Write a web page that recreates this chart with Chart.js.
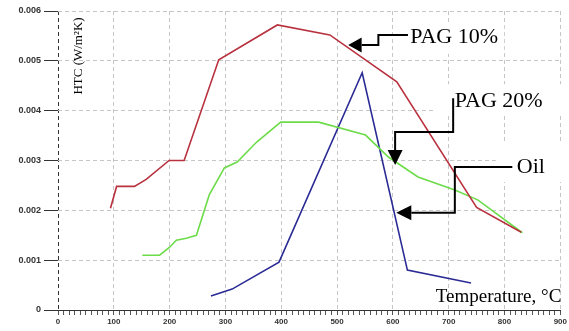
<!DOCTYPE html>
<html><head><meta charset="utf-8">
<script src="https://cdn.jsdelivr.net/npm/chart.js@4"></script>
<style>html,body{margin:0;padding:0;background:#fff}</style>
</head><body>
<canvas id="c" width="569" height="331"></canvas>
<script>
// ---- data ----
const pag10T   = [94, 105, 137, 158, 199, 226, 288, 393, 487, 607, 750, 830];
const pag10HTC = [0.00204, 0.00248, 0.00248, 0.00262, 0.0030, 0.0030, 0.00502, 0.00572, 0.00552, 0.00458, 0.00206, 0.00156];

const pag20T   = [151, 182, 200, 212, 230, 248, 271, 298, 321, 356, 399, 467, 551, 592, 645, 711, 752, 832];
const pag20HTC = [0.0011, 0.0011, 0.00126, 0.0014, 0.00144, 0.0015, 0.00231, 0.00285, 0.00297, 0.00337, 0.00377, 0.00377, 0.00351, 0.00307, 0.00267, 0.00241, 0.00221, 0.00155];

const oilT     = [274, 312, 396, 545, 626, 740];
const oilHTC   = [0.00028, 0.00042, 0.00096, 0.00476, 0.0008, 0.00054];

const seriesNames = ["PAG 10%", "PAG 20%", "Oil"];
const xTickLabels = ["0","100","200","300","400","500","600","700","800","900"];
const yTickLabels = ["0","0.001","0.002","0.003","0.004","0.005","0.006"];

// annotation anchors (data coordinates)
const labelAnchors = [[631, 0.00536], [711, 0.00407], [822, 0.00275]];
const arrowPaths = [
  [[627, 0.00552], [574, 0.00552], [574, 0.00532], [544, 0.00532], [520, 0.00532]],
  [[708, 0.00425], [708, 0.00357], [604, 0.00357], [604, 0.00321], [604, 0.00291]],
  [[814, 0.00287], [711, 0.00287], [711, 0.00195], [633, 0.00195], [606, 0.00195]]
];

const zip = (xs, ys) => xs.map((x, i) => ({x, y: ys[i]}));

const annot = {
  id: 'annot',
  beforeDatasetsDraw(chart) {
    const ctx = chart.ctx, xs = chart.scales.x, ys = chart.scales.y;
    const boxes = [[-6, -21, 100, 32], [-19, -23, 140, 30], [-21, -29, 80, 38]];
    ctx.save();
    ctx.fillStyle = '#fff';
    labelAnchors.forEach((a, i) => {
      const px = xs.getPixelForValue(a[0]), py = ys.getPixelForValue(a[1]);
      const b = boxes[i];
      ctx.fillRect(px + b[0], py + b[1], b[2], b[3]);
    });
    ctx.restore();
  },
  afterDatasetsDraw(chart) {
    const ctx = chart.ctx, xs = chart.scales.x, ys = chart.scales.y;
    ctx.save();
    ctx.strokeStyle = '#000'; ctx.fillStyle = '#000'; ctx.lineWidth = 2;
    arrowPaths.forEach(path => {
      const pts = path.map(p => [xs.getPixelForValue(p[0]), ys.getPixelForValue(p[1])]);
      ctx.beginPath();
      ctx.moveTo(pts[0][0], pts[0][1]);
      for (let i = 1; i < pts.length - 1; i++) ctx.lineTo(pts[i][0], pts[i][1]);
      ctx.stroke();
      const base = pts[pts.length - 2], tip = pts[pts.length - 1];
      const dx = tip[0] - base[0], dy = tip[1] - base[1];
      const len = Math.hypot(dx, dy), nx = -dy / len, ny = dx / len, hw = 7.5;
      ctx.beginPath();
      ctx.moveTo(tip[0], tip[1]);
      ctx.lineTo(base[0] + nx * hw, base[1] + ny * hw);
      ctx.lineTo(base[0] - nx * hw, base[1] - ny * hw);
      ctx.closePath(); ctx.fill();
    });
    ctx.font = '22px "Liberation Serif", "Times New Roman", serif';
    ctx.textBaseline = 'alphabetic'; ctx.textAlign = 'left';
    labelAnchors.forEach((a, i) => {
      ctx.fillText(seriesNames[i], xs.getPixelForValue(a[0]), ys.getPixelForValue(a[1]));
    });
    // axis titles
    ctx.font = '19px "Liberation Serif", "Times New Roman", serif';
    ctx.textAlign = 'right';
    ctx.fillText('Temperature, \u00B0C', chart.chartArea.right + 1, chart.chartArea.bottom - 8);
    ctx.font = '13px "Liberation Serif", "Times New Roman", serif';
    ctx.translate(chart.chartArea.left + 21, chart.chartArea.top + 45);
    ctx.rotate(-Math.PI / 2);
    ctx.textAlign = 'center'; ctx.textBaseline = 'middle';
    ctx.fillText('HTC (W/m\u00B2K)', 0, 0);
    ctx.restore();
  }
};

new Chart(document.getElementById('c'), {
  type: 'line',
  data: {
    datasets: [
      {label: seriesNames[0], data: zip(pag10T, pag10HTC), borderColor: '#b8323f', borderWidth: 1.6},
      {label: seriesNames[1], data: zip(pag20T, pag20HTC), borderColor: '#6ddc4a', borderWidth: 1.6},
      {label: seriesNames[2], data: zip(oilT, oilHTC), borderColor: '#2b2b96', borderWidth: 1.6}
    ]
  },
  options: {
    responsive: false,
    animation: false,
    devicePixelRatio: 1,
    layout: {padding: {top: 11, right: 6, left: 0, bottom: 0}},
    elements: {point: {radius: 0}, line: {tension: 0, fill: false}},
    plugins: {legend: {display: false}, tooltip: {enabled: false}},
    scales: {
      x: {
        type: 'linear', min: 0, max: 900,
        afterFit(s) { s.height = 21; },
        afterBuildTicks(s) { const t = []; for (let v = 0; v <= 900; v += 10) t.push({value: v}); s.ticks = t; },
        ticks: {
          autoSkip: false, maxRotation: 0, padding: 2, color: '#333',
          font: {family: 'Arial, "Liberation Sans", sans-serif', size: 8, weight: 'bold'},
          callback: v => (Math.round(v) % 100 === 0 ? xTickLabels[Math.round(v) / 100] : '')
        },
        grid: {
          color: c => { const v = Math.round(c.tick.value); return v === 0 ? '#333' : (v % 100 === 0 ? '#c6c6c6' : 'rgba(0,0,0,0)'); },
          tickColor: '#555', tickLength: 5, lineWidth: 1
        },
        border: {display: true, color: '#333', width: 1, dash: [4, 3]}
      },
      y: {
        type: 'linear', min: 0, max: 0.006,
        afterFit(s) { s.width = 58; },
        afterBuildTicks(s) { s.ticks = yTickLabels.map((l, i) => ({value: i * 0.001})); },
        ticks: {
          padding: 3, color: '#333',
          font: {family: 'Arial, "Liberation Sans", sans-serif', size: 9, weight: 'bold'},
          callback: (v, i) => yTickLabels[i]
        },
        grid: {color: '#c6c6c6', tickColor: '#333', tickLength: 14, lineWidth: 1},
        border: {display: false, dash: [4, 3]}
      }
    }
  },
  plugins: [annot]
});
</script>
</body></html>
